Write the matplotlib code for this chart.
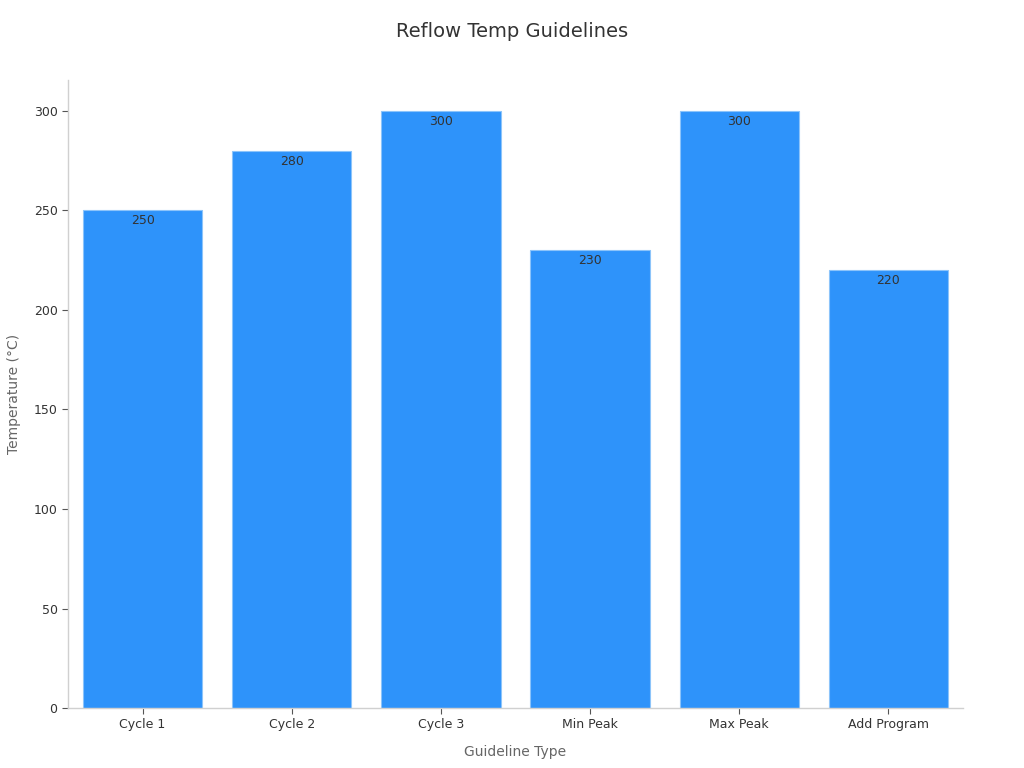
import matplotlib
matplotlib.use("Agg")
import matplotlib.pyplot as plt

# data
categories = ["Cycle 1", "Cycle 2", "Cycle 3", "Min Peak", "Max Peak", "Add Program"]
temps = [250, 280, 300, 230, 300, 220]

plt.rcParams['font.family'] = ['DejaVu Sans']

fig = plt.figure(figsize=(10.24, 7.68), dpi=100)
ax = fig.add_axes([0.0664, 0.078, 0.874, 0.818])

x = range(len(categories))
bars = ax.bar(x, temps, width=0.8, color="#2E93FA", edgecolor="#8CC4FA", linewidth=0.8)

# value labels just inside the top of each bar
for b, v in zip(bars, temps):
    ax.annotate(str(v), (b.get_x() + b.get_width() / 2, b.get_height()),
                xytext=(0, -3), textcoords="offset points",
                ha="center", va="top", fontsize=9, color="#333333")

ax.set_xlim(-0.5, 5.5)
ax.set_ylim(0, 315.5)
ax.set_xticks(list(x))
ax.set_xticklabels(categories)
ax.set_yticks([0, 50, 100, 150, 200, 250, 300])

for s in ["top", "right"]:
    ax.spines[s].set_visible(False)
for s in ["left", "bottom"]:
    ax.spines[s].set_color("#d0d0d0")
    ax.spines[s].set_linewidth(1)

ax.tick_params(axis="both", colors="#333333", labelsize=9, length=4)
ax.tick_params(axis="x", color="#555555", pad=3)
ax.tick_params(axis="y", color="#555555")

ax.set_xlabel("Guideline Type", fontsize=10, color="#666666", labelpad=10)
ax.set_ylabel("Temperature (°C)", fontsize=10, color="#666666", labelpad=9)
fig.suptitle("Reflow Temp Guidelines", fontsize=14, color="#333333", y=0.971)

fig.savefig("out.png", dpi=100)
